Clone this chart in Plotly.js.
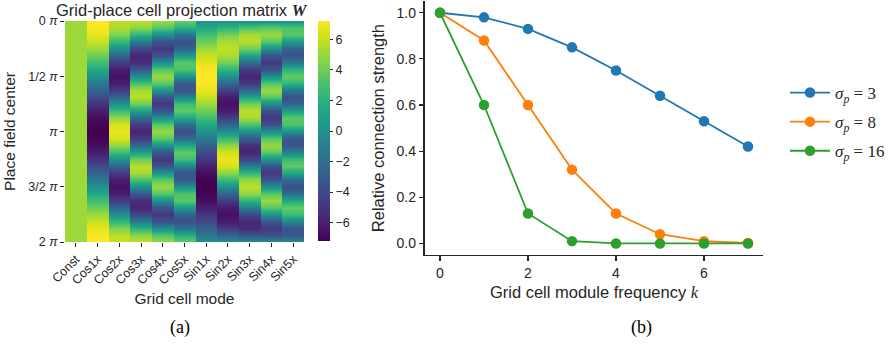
<!DOCTYPE html>
<html><head><meta charset="utf-8">
<script src="https://cdn.plot.ly/plotly-3.0.1.min.js"></script>
<style>html,body{margin:0;padding:0;background:#fff}#chart{width:893px;height:349px}</style>
</head><body><div id="chart"></div>
<script>
// ---- Panel (a): projection matrix W (rows: place field centre 0..2π, 33 samples) ----
const modes = ['Const','Cos1x','Cos2x','Cos3x','Cos4x','Cos5x','Sin1x','Sin2x','Sin3x','Sin4x','Sin5x'];
const rowTickVals = [0, 8, 16, 24, 32];
const rowTickText = ['0 <i>π</i>', '1/2 <i>π</i>', '<i>π</i>', '3/2 <i>π</i>', '2 <i>π</i>'];

const Const = [5.1,5.1,5.1,5.1,5.1,5.1,5.1,5.1,5.1,5.1,5.1,5.1,5.1,5.1,5.1,5.1,5.1,5.1,5.1,5.1,5.1,5.1,5.1,5.1,5.1,5.1,5.1,5.1,5.1,5.1,5.1,5.1,5.1];
const Cos1x = [7.2,7.1,6.7,6.0,5.1,4.0,2.8,1.4,0,-1.4,-2.8,-4.0,-5.1,-6.0,-6.7,-7.1,-7.2,-7.1,-6.7,-6.0,-5.1,-4.0,-2.8,-1.4,0,1.4,2.8,4.0,5.1,6.0,6.7,7.1,7.2];
const Cos2x = [5.8,5.5,4.4,2.4,0,-2.5,-4.7,-6.1,-6.6,-6.1,-4.7,-2.5,0,2.6,4.8,6.3,6.8,6.3,4.8,2.6,0,-2.5,-4.7,-6.1,-6.6,-6.1,-4.7,-2.5,0,2.4,4.5,5.7,6.2];
const Cos3x = [5.8,4.8,2.2,-1.1,-4.1,-5.7,-5.4,-3.2,0,3.2,5.4,5.7,4.1,1.1,-2.2,-4.8,-5.8,-4.8,-2.2,1.1,4.1,5.7,5.4,3.2,0,-3.2,-5.4,-5.7,-4.1,-1.1,2.2,4.8,5.8];
const Cos4x = [5.0,3.5,0,-3.5,-5.0,-3.5,0,3.5,5.0,3.5,0,-3.5,-5.0,-3.5,0,3.5,5.0,3.5,0,-3.5,-5.0,-3.5,0,3.5,5.0,3.5,0,-3.5,-5.0,-3.5,0,3.5,5.0];
const Cos5x = [3.8,2.1,-1.5,-3.7,-2.7,0.7,3.5,3.2,0,-3.2,-3.5,-0.7,2.7,3.7,1.5,-2.1,-3.8,-2.1,1.5,3.7,2.7,-0.7,-3.5,-3.2,0,3.2,3.5,0.7,-2.7,-3.7,-1.5,2.1,3.8];
const Sin1x = [0,1.4,2.8,4.0,5.1,6.0,6.7,7.1,7.2,7.1,6.7,6.0,5.1,4.0,2.8,1.4,0,-1.4,-2.8,-4.0,-5.1,-6.0,-6.7,-7.1,-7.2,-7.1,-6.7,-6.0,-5.1,-4.0,-2.8,-1.4,0];
const Sin2x = [0,2.2,4.1,5.4,5.8,5.4,4.1,2.2,0,-2.5,-4.7,-6.1,-6.6,-6.1,-4.7,-2.5,0,2.6,4.8,6.3,6.8,6.3,4.8,2.6,0,-2.5,-4.7,-6.1,-6.6,-6.1,-4.7,-2.5,0];
const Sin3x = [0,3.2,5.4,5.7,4.1,1.1,-2.2,-4.8,-5.8,-4.8,-2.2,1.1,4.1,5.7,5.4,3.2,0,-3.2,-5.4,-5.7,-4.1,-1.1,2.2,4.8,5.8,4.8,2.2,-1.1,-4.1,-5.7,-5.4,-3.2,0];
const Sin4x = [0,3.5,5.0,3.5,0,-3.5,-5.0,-3.5,0,3.5,5.0,3.5,0,-3.5,-5.0,-3.5,0,3.5,5.0,3.5,0,-3.5,-5.0,-3.5,0,3.5,5.0,3.5,0,-3.5,-5.0,-3.5,0];
const Sin5x = [0,3.2,3.5,0.7,-2.7,-3.7,-1.5,2.1,3.8,2.1,-1.5,-3.7,-2.7,0.7,3.5,3.2,0,-3.2,-3.5,-0.7,2.7,3.7,1.5,-2.1,-3.8,-2.1,1.5,3.7,2.7,-0.7,-3.5,-3.2,0];
const colorbarTicks = [-6,-4,-2,0,2,4,6];

// ---- Panel (b): relative connection strength ----
const freq = [0,1,2,3,4,5,6,7];
const sigma3 = [1.0,0.98,0.93,0.85,0.75,0.64,0.53,0.42];
const sigma8 = [1.0,0.88,0.60,0.32,0.13,0.04,0.01,0.002];
const sigma16 = [1.0,0.60,0.13,0.01,0.0,0.0,0.0,0.0];
const seriesNames = ['<i>σ<sub>p</sub></i> = 3','<i>σ<sub>p</sub></i> = 8','<i>σ<sub>p</sub></i> = 16'];
const seriesColors = ['#1f77b4','#ff7f0e','#2ca02c'];

// build heatmap table (each mode doubled so that smoothing stays within a column)
const columns = [Const,Cos1x,Cos2x,Cos3x,Cos4x,Cos5x,Sin1x,Sin2x,Sin3x,Sin4x,Sin5x];
const xs = modes.flatMap((m,i)=>[i-0.49, i+0.49]);
const z = Const.map((_,j)=>columns.flatMap(c=>[c[j], c[j]]));

const W = 893, H = 349;
const px = v => v / W, py = v => 1 - v / H;
const SANS = "'Liberation Sans', Arial, Helvetica, sans-serif";
const SERIF = "'Liberation Serif', 'Times New Roman', serif";
const ink = '#262626';

const traces = [{
  type: 'heatmap', x: xs, z: z, zsmooth: 'best', colorscale: 'Viridis',
  zmin: -7.2, zmax: 7.2, xaxis: 'x', yaxis: 'y', hoverinfo: 'skip', showlegend: false,
  colorbar: {x: px(318), xanchor: 'left', xpad: 0, ypad: 0, y: py(131), yanchor: 'middle', len: 220/H,
    thickness: 12, outlinewidth: 0, tickvals: colorbarTicks, ticks: 'outside', ticklen: 3.5,
    tickcolor: ink, tickfont: {family: SANS, size: 12.5, color: ink}}
}];
[sigma3, sigma8, sigma16].forEach((s,i)=>{
  traces.push({type:'scatter', mode:'lines+markers', x: freq, y: s, xaxis:'x2', yaxis:'y2',
    name: seriesNames[i], legendgroup: 'g'+i,
    line:{color: seriesColors[i], width: 1.8},
    marker:{color: seriesColors[i], size: 10.5}});
});

const layout = {
  width: W, height: H, margin: {l:0,r:0,t:0,b:0},
  paper_bgcolor: '#fff', plot_bgcolor: '#fff',
  font: {family: SANS, color: ink},
  showlegend: true,
  xaxis: {domain: [px(65), px(304)], range: [-0.5, 10.5], tickvals: modes.map((m,i)=>i), ticktext: modes,
    tickangle: -45, ticks: 'outside', ticklen: 4, tickcolor: ink, showgrid: false, zeroline: false,
    showline: false, tickfont: {size: 12.5, family: SANS, color: ink},
    title: {text: 'Grid cell mode', font: {size: 15.5, family: SANS, color: ink}, standoff: 6}},
  yaxis: {domain: [py(242), py(21)], range: [32, 0], tickvals: rowTickVals, ticktext: rowTickText,
    ticks: 'outside', ticklen: 4, tickcolor: ink, showgrid: false, zeroline: false, showline: false,
    tickfont: {size: 12.5, family: SANS, color: ink},
    title: {text: 'Place field center', font: {size: 15.5, family: SANS, color: ink}, standoff: 8}},
  xaxis2: {domain: [px(424.6), px(763.4)], range: [-0.35, 7.35], anchor: 'y2',
    tickvals: [0,2,4,6], ticks: 'outside', ticklen: 4.5, tickwidth: 1.2, tickcolor: ink,
    showline: true, linecolor: ink, linewidth: 1.3, mirror: false, showgrid: false, zeroline: false,
    tickfont: {size: 14, family: SANS, color: ink},
    title: {text: "Grid cell module frequency <span style=\"font-family:'Liberation Serif'\"><i>k</i></span>",
      font: {size: 16.5, family: SANS, color: ink}, standoff: 7}},
  yaxis2: {domain: [py(255), py(1.2)], range: [-0.05, 1.05], anchor: 'x2',
    tickvals: [0,0.2,0.4,0.6,0.8,1.0], tickformat: '.1f', ticks: 'outside', ticklen: 4.5, tickwidth: 1.2,
    tickcolor: ink, showline: true, linecolor: ink, linewidth: 1.3, mirror: false, showgrid: false,
    zeroline: false, tickfont: {size: 14, family: SANS, color: ink},
    title: {text: 'Relative connection strength', font: {size: 16.5, family: SANS, color: ink}, standoff: 7}},
  legend: {x: px(785), xanchor: 'left', y: py(75), yanchor: 'top', bgcolor: 'rgba(0,0,0,0)',
    font: {family: SERIF, size: 17, color: ink}, tracegroupgap: 4, itemwidth: 40},
  annotations: [
    {text: "Grid-place cell projection matrix <span style=\"font-family:'Liberation Serif'\"><b><i>W</i></b></span>",
      x: px(182), y: py(10), xref: 'paper', yref: 'paper', xanchor: 'center', yanchor: 'middle',
      showarrow: false, font: {family: SANS, size: 16.5, color: ink}},
    {text: '(a)', x: px(180), y: py(327), xref: 'paper', yref: 'paper', xanchor: 'center', yanchor: 'middle',
      showarrow: false, font: {family: SERIF, size: 18, color: '#000'}},
    {text: '(b)', x: px(641), y: py(327), xref: 'paper', yref: 'paper', xanchor: 'center', yanchor: 'middle',
      showarrow: false, font: {family: SERIF, size: 18, color: '#000'}}
  ]
};
Plotly.newPlot('chart', traces, layout, {displayModeBar: false, staticPlot: true});
</script></body></html>
